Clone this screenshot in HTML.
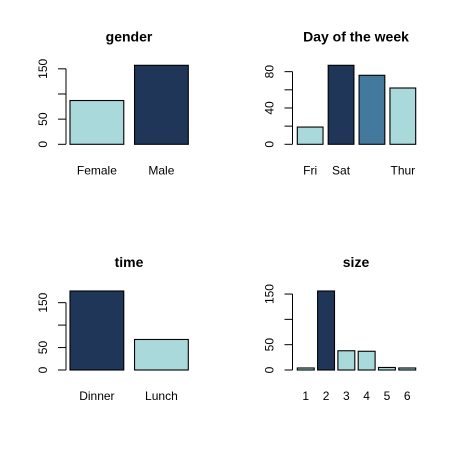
<!DOCTYPE html>
<html><head><meta charset="utf-8"><style>
body{margin:0;background:#fff;}
svg{display:block;font-family:"Liberation Sans",Arial,sans-serif;}
</style></head><body>
<svg id="c" width="454" height="453" xmlns="http://www.w3.org/2000/svg"></svg>
<script>
const genderCats=["Female","Male"];
const genderVals=[87,157];
const dayCats=["Fri","Sat","Sun","Thur"];
const dayVals=[19,87,76,62];
const dayLabels=["Fri","Sat","","Thur"];
const timeCats=["Dinner","Lunch"];
const timeVals=[176,68];
const sizeCats=["1","2","3","4","5","6"];
const sizeVals=[4,156,38,37,5,4];
const genderTicks=[0,50,100,150];
const dayTicks=[0,20,40,60,80];
const timeTicks=[0,50,100,150];
const sizeTicks=[0,50,100,150];

const DARK="#1f3658",LIGHT="#aad9dc",MID="#44799e";
const svg=document.getElementById('c');
const NS="http://www.w3.org/2000/svg";
function mk(t,a,p){const e=document.createElementNS(NS,t);for(const k in a)e.setAttribute(k,a[k]);(p||svg).appendChild(e);return e;}

function panel(o){
  const g=mk('g',{});
  
  
  const max=Math.max(...o.vals);
  const plotH=79;
  const y=v=>o.y0-v/max*plotH;
  const n=o.vals.length;
  const total=o.x1-o.x0;
  const unit=total/(n+0.2*(n-1));
  const t=mk('text',{x:o.tx,y:o.y0-103,'text-anchor':'middle','font-size':14,'font-weight':'bold'},g);
  t.textContent=o.title;
  
  
  const tkMin=o.ticks[0],tkMax=o.ticks[o.ticks.length-1];
  const ax=mk('line',{x1:o.ax,x2:o.ax,y1:y(tkMin),y2:y(tkMax),stroke:'#000'},g);
  
  
  o.ticks.forEach(v=>{
    mk('line',{x1:o.ax-8,x2:o.ax,y1:y(v),y2:y(v),stroke:'#000'},g);
    if(o.tickLabels.includes(v)){
      const tl=mk('text',{x:0,y:0,'text-anchor':'middle','font-size':12,transform:`translate(${o.ax-19},${y(v)}) rotate(-90)`},g);
      tl.textContent=v;
      
      
    }
  });
  o.vals.forEach((v,i)=>{
    const bx=o.x0+i*unit*1.2;
    const r=mk('rect',{x:bx,y:y(v),width:unit,height:o.y0-y(v),fill:o.colors[i],stroke:'#000','stroke-width':1.1},g);
    
    
    const lb=o.labels[i];
    if(lb){
      const l=mk('text',{x:bx+unit/2,y:o.y0+30,'text-anchor':'middle','font-size':12},g);
      l.textContent=lb;
      
      
    }
  });
}
panel({name:'gender',title:'gender',tx:129,cats:genderCats,vals:genderVals,labels:genderCats,ticks:genderTicks,tickLabels:[0,50,150],colors:[LIGHT,DARK],x0:70,x1:188.3,y0:144.3,ax:66});
panel({name:'day',title:'Day of the week',tx:356,cats:dayCats,vals:dayVals,labels:dayLabels,ticks:dayTicks,tickLabels:[0,40,80],colors:[LIGHT,DARK,MID,LIGHT],x0:297.3,x1:415.7,y0:144.3,ax:292.5});
panel({name:'time',title:'time',tx:129,cats:timeCats,vals:timeVals,labels:timeCats,ticks:timeTicks,tickLabels:[0,50,150],colors:[DARK,LIGHT],x0:70,x1:188.3,y0:370,ax:66});
panel({name:'size',title:'size',tx:356,cats:sizeCats,vals:sizeVals,labels:sizeCats,ticks:sizeTicks,tickLabels:[0,50,150],colors:[LIGHT,DARK,LIGHT,LIGHT,LIGHT,LIGHT],x0:297.3,x1:415.7,y0:370,ax:292.5});
</script>
</body></html>
